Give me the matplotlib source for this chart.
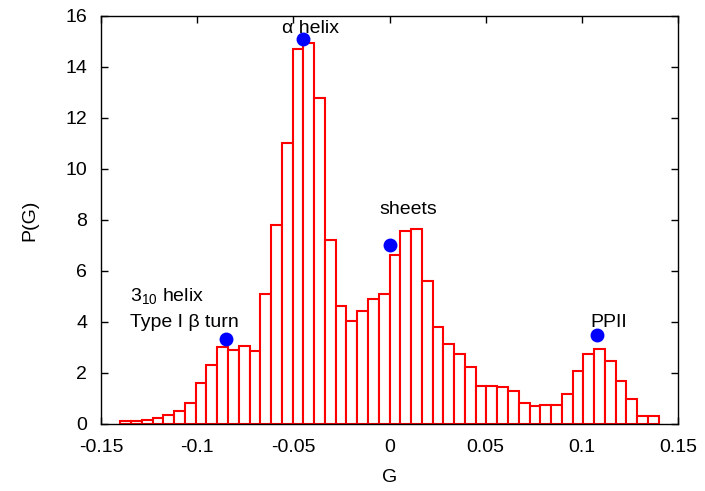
import numpy as np
import matplotlib
matplotlib.use('Agg')
import matplotlib.pyplot as plt

plt.rcParams['font.family'] = ['Liberation Sans', 'DejaVu Sans']
plt.rcParams['mathtext.fontset'] = 'custom'
plt.rcParams['mathtext.rm'] = 'Liberation Sans'
plt.rcParams['mathtext.default'] = 'regular'

# ── Histograma P(G) ──────────────────────────────────────────────────────────
g_edges = np.linspace(-0.14, 0.14, 51)
p_g = [0.10, 0.13, 0.17, 0.22, 0.37, 0.50, 0.82, 1.61, 2.31, 3.01,
       2.90, 3.05, 2.87, 5.08, 7.82, 11.03, 14.71, 14.93, 12.78, 7.23,
       4.61, 4.05, 4.43, 4.92, 5.08, 6.64, 7.58, 7.66, 5.62, 3.82,
       3.12, 2.76, 2.24, 1.50, 1.50, 1.45, 1.28, 0.84, 0.72, 0.76,
       0.76, 1.16, 2.07, 2.76, 2.93, 2.47, 1.70, 0.97, 0.31, 0.31]

# Valores de referencia de estructuras secundarias
ref_g = [-0.045, 0.0, 0.108, -0.085]
ref_p = [15.1, 7.0, 3.5, 3.35]

x_ticks = [-0.15, -0.1, -0.05, 0, 0.05, 0.1, 0.15]
x_tick_labels = ['-0.15', '-0.1', '-0.05', '0', '0.05', '0.1', '0.15']
y_ticks = [0, 2, 4, 6, 8, 10, 12, 14, 16]

fig = plt.figure(figsize=(7.05, 4.91), dpi=100)
ax = fig.add_axes([0.1433, 0.1365, 0.8184, 0.831])

ax.bar(g_edges[:-1], p_g, width=np.diff(g_edges), align='edge',
       facecolor='white', edgecolor='red', linewidth=1.5, zorder=2)
ax.plot(ref_g, ref_p, 'o', color='blue', markersize=9, zorder=4,
        clip_on=False)

fs = 14
ax.text(-0.041, 15.5, 'α helix', ha='center', va='center', fontsize=fs)
ax.text(0.010, 8.43, 'sheets', ha='center', va='center', fontsize=fs)
ax.text(0.114, 3.97, 'PPII', ha='center', va='center', fontsize=fs)
ax.text(-0.135, 5.03, r'3$_{10}$ helix', ha='left', va='center', fontsize=fs)
ax.text(-0.135, 3.97, 'Type I β turn', ha='left', va='center', fontsize=fs)

ax.set_xlim(-0.15, 0.15)
ax.set_ylim(0, 16)
ax.set_xticks(x_ticks)
ax.set_xticklabels(x_tick_labels)
ax.set_yticks(y_ticks)
ax.tick_params(direction='in', top=True, right=True, length=5, width=1,
               labelsize=fs)
ax.tick_params(axis='x', pad=11)
ax.tick_params(axis='y', pad=10)
for sp in ax.spines.values():
    sp.set_linewidth(1.0)

ax.set_xlabel('G', fontsize=fs, va='center')
ax.set_ylabel('P(G)', fontsize=fs, va='center')
ax.xaxis.set_label_coords(0.5, -0.132)
ax.yaxis.set_label_coords(-0.123, 0.5)

fig.savefig('out.png', dpi=100)
